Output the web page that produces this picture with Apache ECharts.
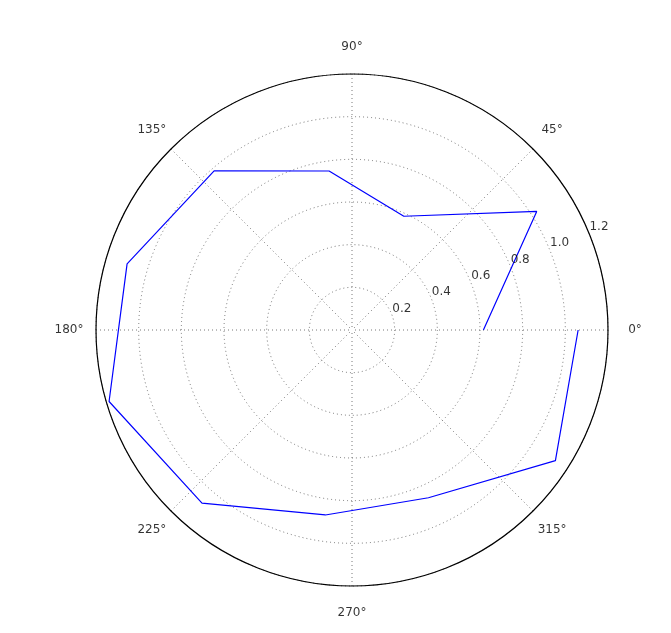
<!DOCTYPE html>
<html>
<head>
<meta charset="utf-8">
<script src="https://cdn.jsdelivr.net/npm/echarts@6/dist/echarts.min.js"></script>
<style>html,body{margin:0;padding:0;background:#fff}#c{width:671px;height:633px}</style>
</head>
<body>
<div id="c"></div>
<script>
// Data (theta in degrees, r values)
var thetas = [0, 32.7, 65.5, 98.2, 130.9, 163.6, 196.4, 229.1, 261.8, 294.5, 327.3, 360];
var rValues = [0.616, 1.029, 0.586, 0.753, 0.987, 1.099, 1.187, 1.074, 0.876, 0.864, 1.133, 1.060];
var radiusTicks = [0.2, 0.4, 0.6, 0.8, 1.0, 1.2];
var radiusTickLabels = ['0.2', '0.4', '0.6', '0.8', '1.0', '1.2'];
var angleTicks = [0, 45, 90, 135, 180, 225, 270, 315];
var angleTickLabels = ['0°', '45°', '90°', '135°', '180°', '225°', '270°', '315°'];
var radiusLabelAngle = 22.5;

var FONT = 'DejaVu Sans';
var chart = echarts.init(document.getElementById('c'), null, {renderer: 'canvas'});

var lineData = rValues.map(function (r, i) { return [r, thetas[i]]; });
var rLabelData = radiusTicks.map(function (r, i) { return {value: [r, radiusLabelAngle], name: radiusTickLabels[i]}; });
var aLabelData = angleTicks.map(function (a, i) { return {value: [1, a], name: angleTickLabels[i]}; });

var gridStyle = {color: '#555', width: 0.8, type: [1, 3]};

chart.setOption({
  animation: false,
  backgroundColor: '#fff',
  polar: [
    {center: [352, 330], radius: 256},
    {center: [352, 330], radius: 283}
  ],
  angleAxis: [
    {
      polarIndex: 0, type: 'value', min: 0, max: 360, interval: 45,
      startAngle: 0, clockwise: false,
      axisLine: {show: true, lineStyle: {color: '#000', width: 1.2}},
      axisTick: {show: false}, axisLabel: {show: false},
      splitLine: {show: true, lineStyle: gridStyle}
    },
    {
      polarIndex: 1, type: 'value', min: 0, max: 360, interval: 45,
      startAngle: 0, clockwise: false,
      axisLine: {show: false}, axisTick: {show: false}, axisLabel: {show: false},
      splitLine: {show: false}
    }
  ],
  radiusAxis: [
    {
      polarIndex: 0, type: 'value', min: 0, max: 1.2, interval: 0.2,
      axisLine: {show: false}, axisTick: {show: false}, axisLabel: {show: false},
      splitLine: {show: true, lineStyle: gridStyle}
    },
    {
      polarIndex: 1, type: 'value', min: 0, max: 1,
      axisLine: {show: false}, axisTick: {show: false}, axisLabel: {show: false},
      splitLine: {show: false}
    }
  ],
  series: [
    {
      type: 'line', coordinateSystem: 'polar', polarIndex: 0,
      data: lineData, showSymbol: false, symbol: 'none', smooth: false,
      lineStyle: {color: '#0000ff', width: 1.2}, z: 5
    },
    {
      type: 'scatter', coordinateSystem: 'polar', polarIndex: 0,
      data: rLabelData, symbolSize: 0.1, silent: true,
      label: {
        show: true, position: [1, 1], align: 'left', verticalAlign: 'bottom',
        formatter: function (p) { return p.name; },
        fontFamily: FONT, fontSize: 12, color: '#000'
      }, z: 6
    },
    {
      type: 'scatter', coordinateSystem: 'polar', polarIndex: 1,
      data: aLabelData, symbolSize: 0.1, silent: true,
      label: {
        show: true, position: 'inside', align: 'center', verticalAlign: 'middle',
        formatter: function (p) { return p.name; },
        fontFamily: FONT, fontSize: 12, color: '#000'
      }, z: 6
    }
  ]
});
</script>
</body>
</html>
